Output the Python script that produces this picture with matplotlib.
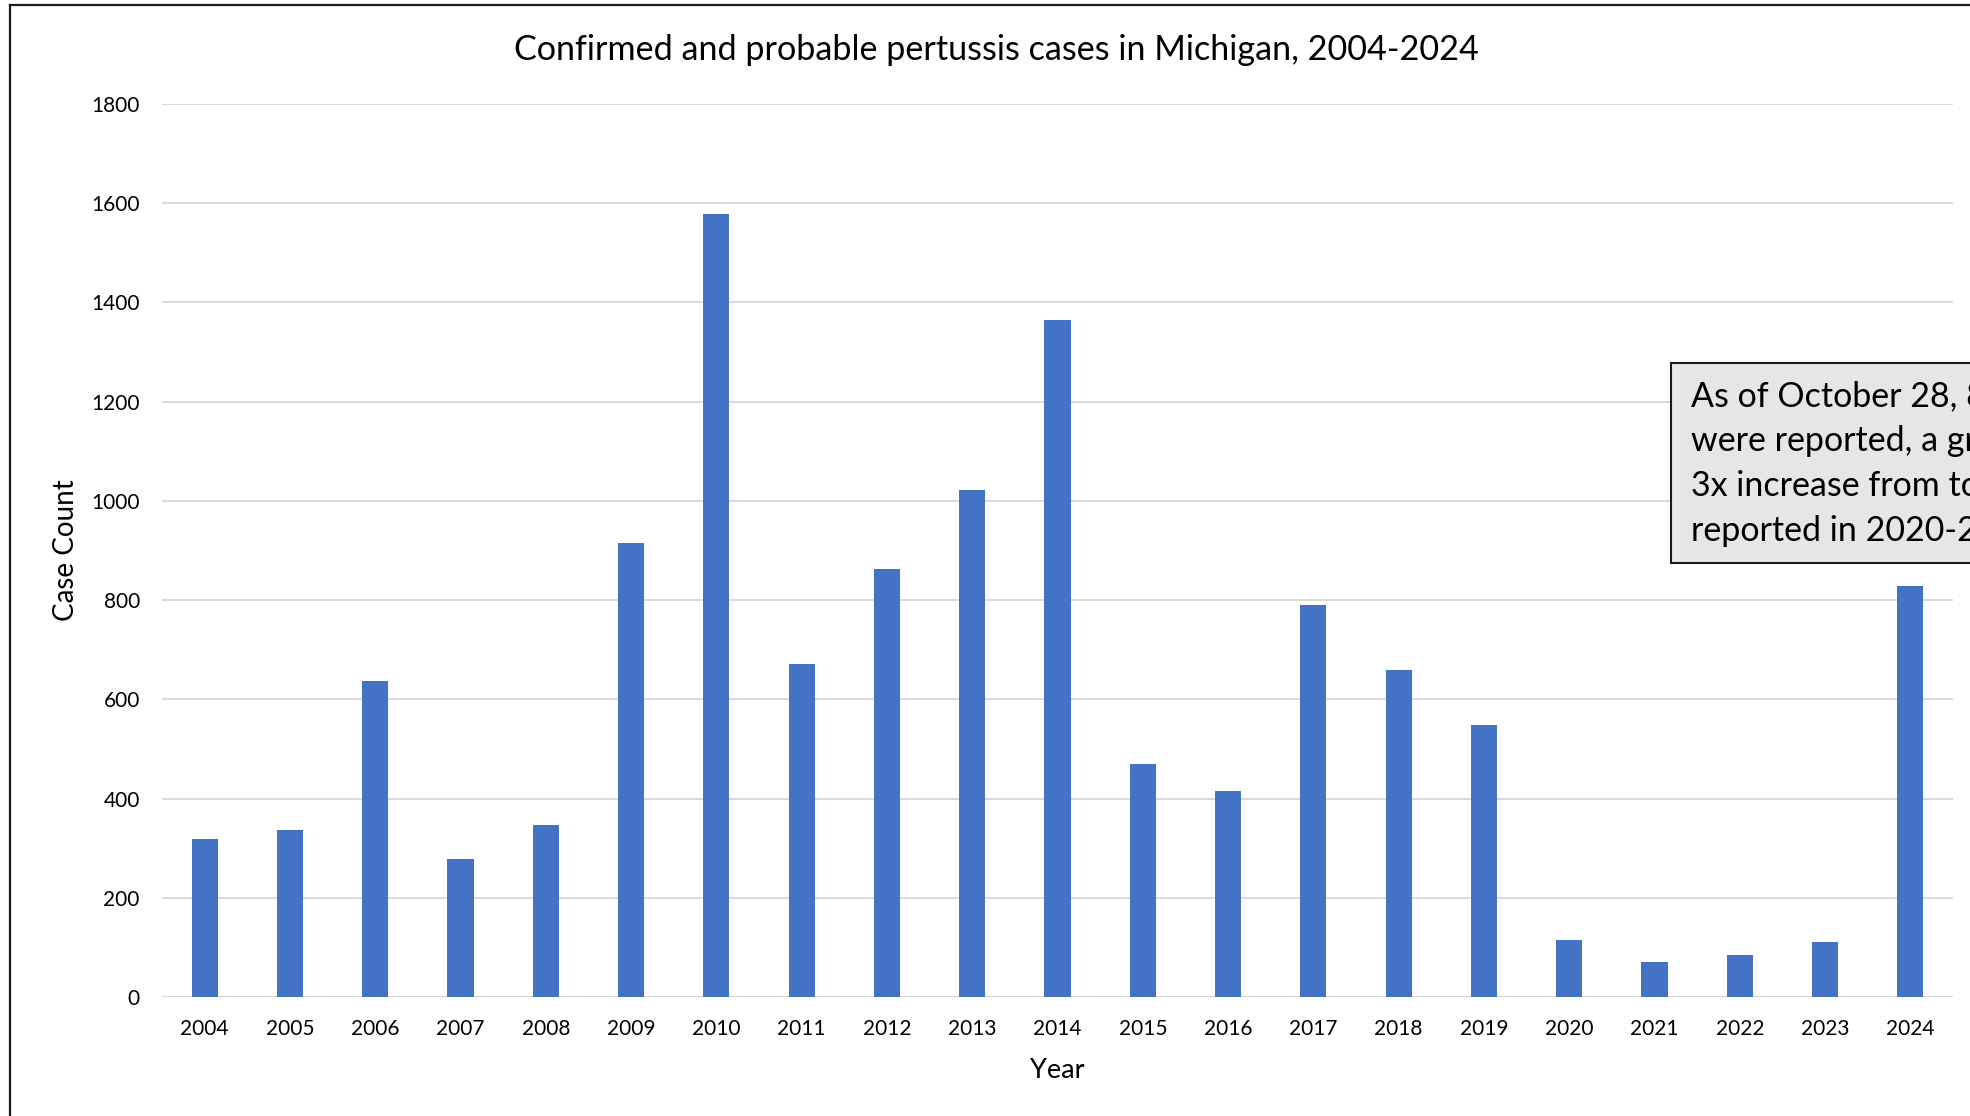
import matplotlib
matplotlib.use("Agg")
import matplotlib.pyplot as plt
from matplotlib.lines import Line2D
from matplotlib.patches import Rectangle

plt.rcParams['font.family'] = ['Lato', 'DejaVu Sans']

years = ['2004', '2005', '2006', '2007', '2008', '2009', '2010', '2011', '2012', '2013',
         '2014', '2015', '2016', '2017', '2018', '2019', '2020', '2021', '2022', '2023', '2024']
cases = [319, 337, 636, 279, 347, 915, 1579, 672, 862, 1021,
         1364, 469, 416, 791, 659, 548, 115, 71, 84, 110, 829]
y_ticks = [0, 200, 400, 600, 800, 1000, 1200, 1400, 1600, 1800]
title = "Confirmed and probable pertussis cases in Michigan, 2004-2024"
note_lines = ["As of October 28, 829 cases",
              "were reported, a greater than",
              "3x increase from total cases",
              "reported in 2020-2023."]

W, H = 1970, 1116
fig = plt.figure(figsize=(W / 100, H / 100), dpi=100)
fig.patch.set_facecolor('white')

ax_l, ax_r, ax_t, ax_b = 162, 1953, 104, 997
ax = fig.add_axes([ax_l / W, (H - ax_b) / H, (ax_r - ax_l) / W, (ax_b - ax_t) / H])

x = list(range(len(years)))
ax.bar(x, cases, width=0.305, color='#4472C4', zorder=3)
ax.set_xlim(-0.5, len(years) - 0.5)
ax.set_ylim(0, 1800)
ax.set_yticks(y_ticks)
ax.set_yticklabels([str(v) for v in y_ticks])
ax.set_xticks(x)
ax.set_xticklabels(years)
ax.yaxis.grid(True, color='#D9D9D9', linewidth=1.4)
ax.set_axisbelow(True)
for s in ax.spines.values():
    s.set_visible(False)
ax.tick_params(axis='both', length=0, labelsize=15, colors='black')
ax.tick_params(axis='y', pad=16)
ax.tick_params(axis='x', pad=16)

ax.set_xlabel("Year", fontsize=19.5, va='center')
ax.xaxis.set_label_coords(0.5, -(1071 - ax_b) / (ax_b - ax_t))
ax.set_ylabel("Case Count", fontsize=20, va='center')
ax.yaxis.set_label_coords(-(ax_l - 66) / (ax_r - ax_l), 0.5)

fig.text(996 / W, 1 - 50 / H, title, ha='center', va='center', fontsize=24.6)

# outer frame (left and top visible)
fig.add_artist(Line2D([10 / W, 10 / W], [0, 1 - 5 / H], transform=fig.transFigure,
                      color='#1a1a1a', linewidth=1.6))
fig.add_artist(Line2D([10 / W, 1], [1 - 5 / H, 1 - 5 / H], transform=fig.transFigure,
                      color='#1a1a1a', linewidth=1.6))

# annotation box
box_l, box_t, box_b = 1671, 363, 563
fig.add_artist(Rectangle((box_l / W, 1 - box_b / H), (W + 200 - box_l) / W, (box_b - box_t) / H,
                         transform=fig.transFigure, facecolor='#E7E6E6',
                         edgecolor='#1a1a1a', linewidth=1.5, zorder=5))
baselines = [406, 451, 496, 541]
for line, yb in zip(note_lines, baselines):
    fig.text(1691 / W, 1 - yb / H, line, ha='left', va='baseline', fontsize=24.5, zorder=6)

fig.savefig("out.png", dpi=100)
